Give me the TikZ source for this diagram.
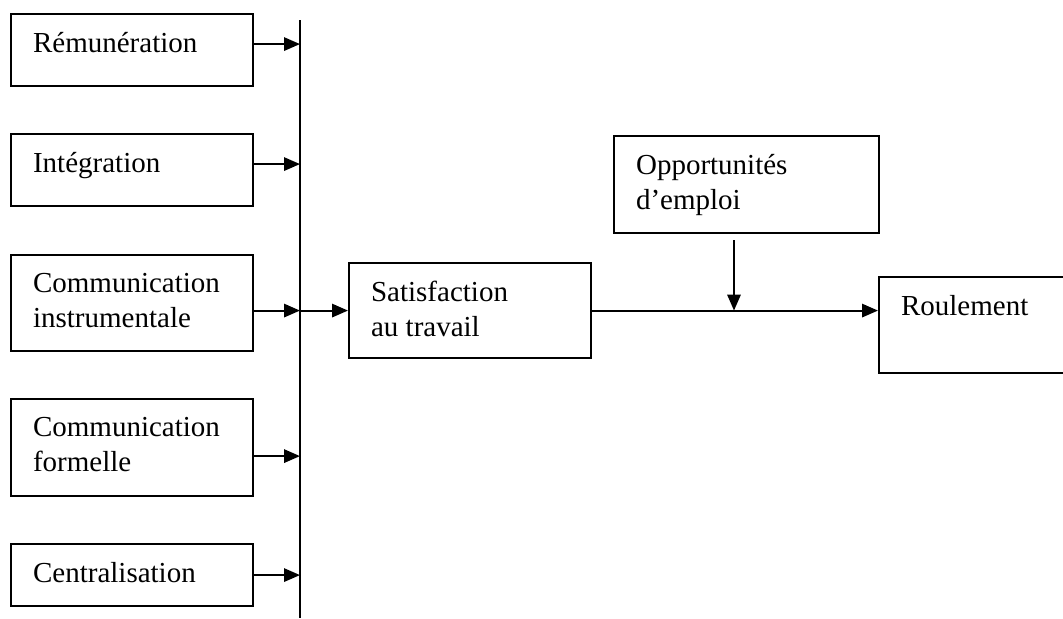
\documentclass[tikz,border=0pt]{standalone}
\usepackage{fontspec}
\setmainfont{Liberation Serif}
\usetikzlibrary{arrows.meta}

\begin{document}
\begin{tikzpicture}[x=0.75pt,y=-0.75pt,>={Triangle[length=12pt,width=10pt]},
        line width=1.6pt,
        cadre/.style={draw,rectangle,anchor=north west,inner sep=0pt,
          minimum width=181.5pt},
        etiq/.style={anchor=north west,align=left,inner sep=0pt,
          xshift=16.5pt,yshift=-13.7pt,
          font=\fontsize{21.75pt}{26.25pt}\selectfont}]

  \clip (0,0) rectangle (1063,618);

  % facteurs
  \node[cadre,minimum height=54pt,
        label={[etiq]north west:Rémunération}] (remu) at (10,13) {};
  \node[cadre,minimum height=54pt,
        label={[etiq]north west:Intégration}] (integ) at (10,133) {};
  \node[cadre,minimum height=72pt,
        label={[etiq]north west:Communication\\instrumentale}] (instr) at (10,254) {};
  \node[cadre,minimum height=72.75pt,
        label={[etiq]north west:Communication\\formelle}] (formel) at (10,398) {};
  \node[cadre,minimum height=46.5pt,
        label={[etiq]north west:Centralisation}] (central) at (10,543) {};

  \node[cadre,minimum height=71.25pt,
        label={[etiq]north west:Satisfaction\\au travail}] (sat) at (348,262) {};
  \node[cadre,minimum width=198.75pt,minimum height=72.75pt,
        label={[etiq]north west:Opportunités\\d’emploi}] (opp) at (613,135) {};
  \node[cadre,minimum width=150pt,minimum height=72pt,
        label={[etiq]north west:Roulement}] (roul) at (878,276) {};

  % barre verticale
  \coordinate (haut) at (300,20);
  \coordinate (bas) at (300,618);
  \draw (haut) -- (bas);

  \foreach \b/\d in {remu/4.5pt,integ/4.5pt,formel/-6.4pt,central/0pt}
    \draw[->] ([yshift=\d]\b.east) coordinate (depart) -- (depart -| haut);
  \draw[->] (instr.east |- sat.west) -- (sat.west -| haut);
  \draw[->] (sat.west -| haut) -- (sat.west);

  \draw[->] (sat.east) -- (sat.east -| roul.west);
  \coordinate (jonction) at (734,0 |- sat.east);
  \draw[->,shorten <=4.5pt] (jonction |- opp.south) -- (jonction);

\end{tikzpicture}
\end{document}
